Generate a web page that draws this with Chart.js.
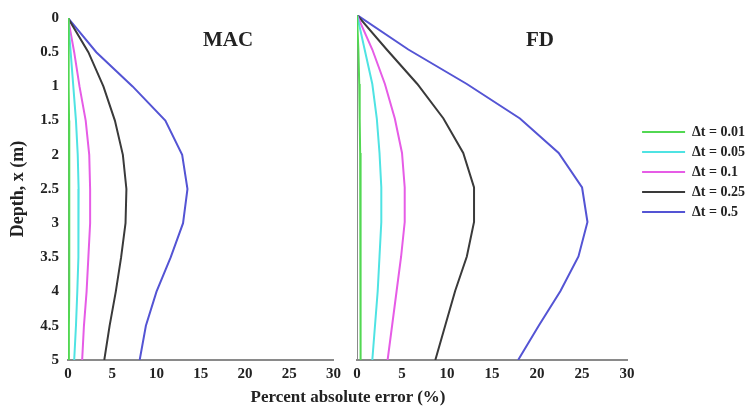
<!DOCTYPE html>
<html>
<head>
<meta charset="utf-8">
<script src="https://cdn.jsdelivr.net/npm/chart.js@4"></script>
<style>
    body { margin: 0; background: #fff; }
    #wrap { position: relative; width: 747px; height: 410px; overflow: hidden; }
    canvas { position: absolute; top: 0; }
    .rotulo { position: absolute; font-family: 'Liberation Serif', serif; font-weight: bold; color: #222; white-space: nowrap; transform: translateX(-50%); }
</style>
</head>
<body>
<div id="wrap">
    <canvas id="mac" width="346" height="410" style="left:0"></canvas>
    <canvas id="fd" width="400" height="410" style="left:347px"></canvas>
    <div class="rotulo" style="left:228px; top:27px; font-size:21px;">MAC</div>
    <div class="rotulo" style="left:540px; top:27px; font-size:21px;">FD</div>
    <div class="rotulo" style="left:348px; top:387px; font-size:17px;">Percent absolute error (%)</div>
</div>
<script>
// depth points (m) shared by every curve
const depth = [0, 0.5, 1, 1.5, 2, 2.5, 3, 3.5, 4, 4.5, 5];
const stepLabels = ['\u0394t = 0.01', '\u0394t = 0.05', '\u0394t = 0.1', '\u0394t = 0.25', '\u0394t = 0.5'];
const lineColors = ['#52d852', '#4fe3e3', '#e65ce6', '#3a3a3a', '#5454d4'];

// MAC errors (%)
const mac001 = [0, 0.05, 0.1, 0.12, 0.15, 0.15, 0.15, 0.15, 0.12, 0.1, 0.1];
const mac005 = [0, 0.3, 0.6, 0.9, 1.1, 1.2, 1.2, 1.15, 1.05, 0.9, 0.7];
const mac01 = [0, 0.7, 1.3, 2.0, 2.4, 2.5, 2.5, 2.3, 2.1, 1.8, 1.6];
const mac025 = [0, 2.3, 4.0, 5.3, 6.2, 6.6, 6.5, 6.0, 5.4, 4.7, 4.1];
const mac05 = [0, 3.2, 7.3, 11.0, 12.9, 13.5, 13.0, 11.6, 10.0, 8.8, 8.1];

// FD errors (%)
const fd001 = [0, 0.15, 0.25, 0.3, 0.35, 0.4, 0.4, 0.4, 0.4, 0.4, 0.4];
const fd005 = [0, 0.85, 1.7, 2.2, 2.5, 2.7, 2.7, 2.5, 2.3, 2.0, 1.7];
const fd01 = [0, 1.7, 3.1, 4.2, 5.0, 5.3, 5.3, 4.9, 4.4, 3.9, 3.4];
const fd025 = [0, 3.3, 6.7, 9.6, 11.8, 13.0, 13.0, 12.2, 10.9, 9.8, 8.7];
const fd05 = [0, 5.7, 12.2, 18.1, 22.4, 25.0, 25.6, 24.6, 22.6, 20.2, 17.9];

const fonteEixo = { family: 'Liberation Serif', weight: 'bold', size: 15 };

function montaDatasets(series) {
    return series.map((valores, i) => ({
        label: stepLabels[i],
        data: depth.map((d, j) => ({ x: valores[j], y: d })),
        borderColor: lineColors[i],
        backgroundColor: lineColors[i],
        borderWidth: 2,
        pointRadius: 0,
        showLine: true,
        fill: false,
        tension: 0
    }));
}

function escalaX() {
    return {
        type: 'linear', min: 0, max: 30,
        ticks: { stepSize: 5, color: '#222', font: fonteEixo, padding: 5 },
        grid: { display: false, drawTicks: false },
        border: { display: true, color: '#8a8a8a', width: 2 },
        afterFit: (scale) => { scale.height = 50; }
    };
}

new Chart(document.getElementById('mac'), {
    type: 'scatter',
    data: { datasets: montaDatasets([mac001, mac005, mac01, mac025, mac05]) },
    options: {
        responsive: false,
        animation: false,
        layout: { padding: { left: 8, right: 10, top: 15, bottom: 0 } },
        plugins: { legend: { display: false }, tooltip: { enabled: false } },
        scales: {
            x: escalaX(),
            y: {
                type: 'linear', min: 0, max: 5, reverse: true,
                ticks: { stepSize: 0.5, color: '#222', font: fonteEixo, padding: 9, callback: (v) => String(Math.round(v * 10) / 10) },
                grid: { display: false, drawTicks: false },
                border: { display: true, color: '#8a8a8a', width: 1 },
                title: { display: true, text: 'Depth, x (m)', color: '#222', font: { family: 'Liberation Serif', weight: 'bold', size: 18 }, padding: 0 },
                afterFit: (scale) => { scale.width = 60; }
            }
        }
    }
});

new Chart(document.getElementById('fd'), {
    type: 'scatter',
    data: { datasets: montaDatasets([fd001, fd005, fd01, fd025, fd05]) },
    options: {
        responsive: false,
        animation: false,
        // negative right padding lets the legend's inner padding run off the canvas edge
        layout: { padding: { left: 10, right: -8, top: 15, bottom: 0 } },
        plugins: {
            tooltip: { enabled: false },
            legend: {
                position: 'right',
                align: 'start',
                maxWidth: 160,
                // empty title only pushes the entries down to where they sit in the figure
                title: { display: true, text: ' ', font: { size: 5 }, padding: { top: 98, bottom: 0 } },
                labels: {
                    usePointStyle: true,
                    pointStyle: 'line',
                    pointStyleWidth: 43,
                    boxHeight: 14,
                    padding: 6,
                    color: '#222',
                    font: { family: 'Liberation Serif', weight: 'bold', size: 14 }
                }
            }
        },
        scales: {
            x: escalaX(),
            y: {
                type: 'linear', min: 0, max: 5, reverse: true,
                ticks: { display: false, stepSize: 0.5 },
                grid: { display: false, drawTicks: false },
                border: { display: true, color: '#8a8a8a', width: 1 },
                afterFit: (scale) => { scale.width = 0; }
            },
            // blank axis, just a gap between the plot and the legend
            gap: {
                type: 'linear', position: 'right', display: true,
                ticks: { display: false },
                grid: { display: false, drawTicks: false },
                border: { display: false },
                afterFit: (scale) => { scale.width = 9; }
            }
        }
    }
});
</script>
</body>
</html>
